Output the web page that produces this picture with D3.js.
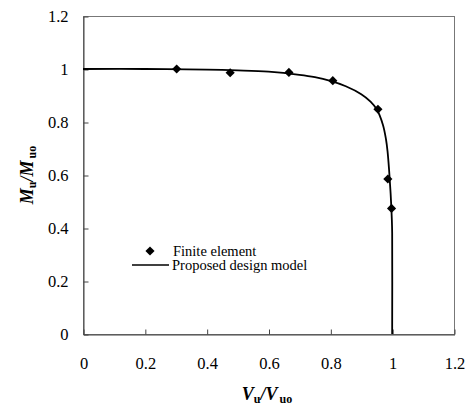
<!DOCTYPE html>
<html>
<head>
<meta charset="utf-8">
<script src="https://cdn.jsdelivr.net/npm/d3@7"></script>
<style>
  body { margin: 0; background: #fff; }
  svg text { font-family: "Liberation Serif", "Times New Roman", serif; fill: #000; }
</style>
</head>
<body>
<svg width="470" height="408"></svg>
<script>
// finite element results
var feV = [0.303, 0.476, 0.666, 0.808, 0.954, 0.986, 0.998]
var feM = [1.0, 0.986, 0.987, 0.956, 0.848, 0.585, 0.474]

// proposed design model curve
var modelV = [0, 0.2, 0.4, 0.5, 0.6, 0.7, 0.75, 0.8, 0.85, 0.9, 0.93, 0.95, 0.97, 0.98, 0.985, 0.99, 0.995, 0.999, 1.0, 1.0]
var modelM = [1.0, 1.0, 0.998, 0.995, 0.99, 0.978, 0.969, 0.955, 0.935, 0.905, 0.877, 0.848, 0.79, 0.735, 0.69, 0.62, 0.53, 0.43, 0.38, 0]

var ticks = [0, 0.2, 0.4, 0.6, 0.8, 1, 1.2]

var svg = d3.select("svg")
var plotL = 83, plotR = 454, plotT = 16, plotB = 334

var xScale = d3.scaleLinear().domain([0, 1.2]).range([plotL, plotR])
var yScale = d3.scaleLinear().domain([0, 1.2]).range([plotB, plotT])
var fmt = d => d == 1 || d == 0 ? String(d) : d3.format(".1f")(d)
var serif = '"Liberation Serif", "Times New Roman", serif'

// frame
svg.append("rect")
    .attr("x", plotL + 0.5).attr("y", plotT + 0.5)
    .attr("width", plotR - plotL).attr("height", plotB - plotT)
    .attr("fill", "none").attr("stroke", "#777").attr("stroke-width", 1)

var xAxis = d3.axisBottom(xScale).tickValues(ticks).tickFormat(fmt)
    .tickSizeInner(-5).tickSizeOuter(0).tickPadding(23)
svg.append("g").attr("id", "xAxis")
    .attr("transform", "translate(0.5," + (plotB + 0.5) + ")")
    .attr("font-family", serif)
    .call(xAxis)
    .call(g => g.select(".domain").attr("stroke", "#444"))
    .call(g => g.selectAll(".tick line").attr("stroke", "#444"))
    .call(g => g.selectAll(".tick text").style("font-size", "16.5px").style("font-family", serif))

var yAxis = d3.axisLeft(yScale).tickValues(ticks).tickFormat(fmt)
    .tickSizeInner(-5).tickSizeOuter(0).tickPadding(15)
svg.append("g").attr("id", "yAxis")
    .attr("transform", "translate(" + (plotL + 0.5) + ",0.5)")
    .call(yAxis)
    .call(g => g.select(".domain").attr("stroke", "#444"))
    .call(g => g.selectAll(".tick line").attr("stroke", "#444"))
    .call(g => g.selectAll(".tick text").style("font-size", "16.5px").style("font-family", serif))

// model curve
var line = d3.line()
    .x((d, i) => xScale(modelV[i]))
    .y((d, i) => yScale(modelM[i]))
    .curve(d3.curveCatmullRom.alpha(0.5))
svg.append("path")
    .datum(modelV)
    .attr("d", line)
    .attr("fill", "none")
    .attr("stroke", "#000")
    .attr("stroke-width", 1.8)

// finite element points
var diamond = d3.symbol().type(d3.symbolSquare).size(42)
svg.selectAll("path.fe")
    .data(feV)
    .enter()
    .append("path")
    .attr("class", "fe")
    .attr("d", diamond)
    .attr("transform", (d, i) => "translate(" + xScale(d) + "," + yScale(feM[i]) + ") rotate(45)")
    .attr("fill", "#000")

// legend
var legend = svg.append("g").attr("class", "legend")
legend.append("path")
    .attr("d", diamond)
    .attr("transform", "translate(150,251) rotate(45)")
    .attr("fill", "#000")
legend.append("text").attr("x", 173).attr("y", 256).style("font-size", "14.5px").text("Finite element")
legend.append("line")
    .attr("x1", 132).attr("x2", 169).attr("y1", 265).attr("y2", 265)
    .attr("stroke", "#000").attr("stroke-width", 1.3)
legend.append("text").attr("x", 172).attr("y", 270).style("font-size", "14.5px").text("Proposed design model")

// axis titles
var xt = svg.append("text")
    .attr("x", 267).attr("y", 400)
    .attr("text-anchor", "middle")
    .style("font-size", "18px").attr("font-weight", "bold")
xt.append("tspan").attr("font-style", "italic").text("V")
xt.append("tspan").style("font-size", "12px").attr("dy", 3).text("u")
xt.append("tspan").attr("font-style", "italic").attr("dy", -3).text("/V")
xt.append("tspan").style("font-size", "12px").attr("dy", 3).attr("dx", 2).text("uo")

var yt = svg.append("text")
    .attr("transform", "translate(33,175) rotate(-90)")
    .attr("text-anchor", "middle")
    .style("font-size", "18px").attr("font-weight", "bold")
yt.append("tspan").attr("font-style", "italic").text("M")
yt.append("tspan").style("font-size", "12px").attr("dy", 3).text("u")
yt.append("tspan").attr("font-style", "italic").attr("dy", -3).text("/M")
yt.append("tspan").style("font-size", "12px").attr("dy", 3).attr("dx", 2).text("uo")
</script>
</body>
</html>
